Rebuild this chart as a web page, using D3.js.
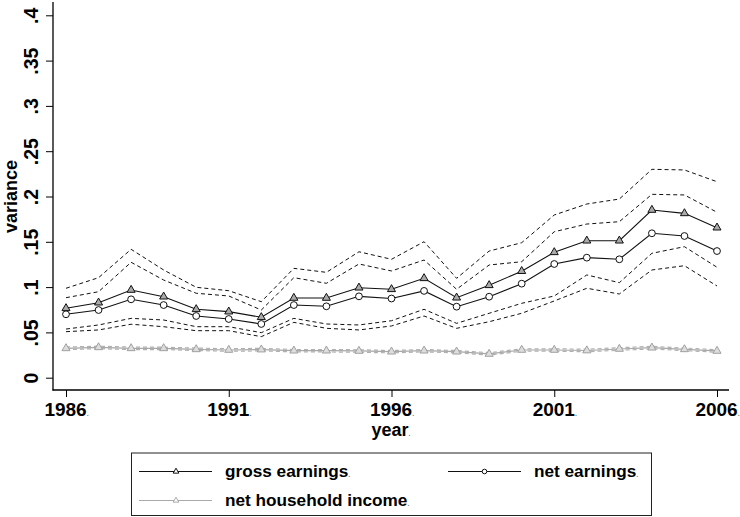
<!DOCTYPE html>
<html>
<head>
<meta charset="utf-8">
<script src="https://cdn.jsdelivr.net/npm/d3@7"></script>
<style>
  body { margin: 0; background: #fff; }
  svg { display: block; font-family: "Liberation Sans", Arial, sans-serif; font-weight: bold; }
</style>
</head>
<body>
<svg width="740" height="517"></svg>
<script>
// data
const years = [1986,1987,1988,1989,1990,1991,1992,1993,1994,1995,1996,1997,1998,1999,2000,2001,2002,2003,2004,2005,2006];
const gross = [0.0766,0.0828,0.0968,0.0894,0.0755,0.0729,0.0667,0.0880,0.0880,0.0993,0.0976,0.1097,0.0883,0.1020,0.1176,0.1384,0.1512,0.1512,0.1851,0.1814,0.1656];
const net = [0.0700,0.0747,0.0865,0.0802,0.0681,0.0648,0.0593,0.0802,0.0788,0.0898,0.0874,0.0958,0.0784,0.0894,0.1038,0.1255,0.1325,0.1307,0.1594,0.1564,0.1398];
const grossUpper = [0.0987,0.1104,0.1417,0.1189,0.0998,0.0960,0.0839,0.1207,0.1163,0.1390,0.1307,0.1501,0.1097,0.1398,0.1490,0.1796,0.1917,0.1972,0.2300,0.2293,0.2163];
const netUpper = [0.0883,0.0949,0.1274,0.1078,0.0932,0.0902,0.0747,0.1104,0.1042,0.1255,0.1178,0.1299,0.0976,0.1244,0.1280,0.1611,0.1696,0.1722,0.2024,0.2017,0.1826];
const grossLower = [0.0537,0.0582,0.0655,0.0637,0.0563,0.0563,0.0497,0.0655,0.0593,0.0582,0.0629,0.0755,0.0600,0.0711,0.0821,0.0902,0.1134,0.1049,0.1373,0.1446,0.1219];
const netLower = [0.0508,0.0527,0.0590,0.0563,0.0519,0.0519,0.0453,0.0611,0.0545,0.0527,0.0571,0.0681,0.0545,0.0618,0.0711,0.0847,0.0987,0.0924,0.1189,0.1236,0.1012];
const hhIncome = [0.0324,0.0335,0.0324,0.0324,0.0313,0.0306,0.0310,0.0298,0.0298,0.0295,0.0287,0.0298,0.0287,0.0262,0.0306,0.0306,0.0300,0.0317,0.0331,0.0313,0.0295];
const hhUpper = [0.0338,0.0348,0.0338,0.0337,0.0327,0.0320,0.0324,0.0311,0.0311,0.0308,0.0300,0.0311,0.0300,0.0276,0.0319,0.0319,0.0314,0.0331,0.0346,0.0327,0.0309];
const hhLower = [0.0310,0.0321,0.0310,0.0311,0.0300,0.0292,0.0296,0.0285,0.0284,0.0281,0.0274,0.0285,0.0274,0.0249,0.0292,0.0293,0.0287,0.0303,0.0317,0.0299,0.0281];

const xTicks = [1986,1991,1996,2001,2006];
const yTicks = [0,0.05,0.1,0.15,0.2,0.25,0.3,0.35,0.4];
const yTickLabels = ["0",".05",".1",".15",".2",".25",".3",".35",".4"];

const svg = d3.select('svg');

const x = d3.scaleLinear().domain([1986, 2006]).range([66, 717]);
const y = d3.scaleLinear().domain([0, 0.4]).range([377.7, 15.3]);

// axis lines
svg.append('line').attr('x1', 53).attr('x2', 53).attr('y1', 2).attr('y2', 390.5)
    .attr('stroke', '#000').attr('stroke-width', 1.3);
svg.append('line').attr('x1', 52.5).attr('x2', 729).attr('y1', 390).attr('y2', 390)
    .attr('stroke', '#000').attr('stroke-width', 1.3);

// y axis
const yAxis = svg.append('g')
    .attr('transform', 'translate(53,0)')
    .call(d3.axisLeft(y).tickValues(yTicks).tickSize(7).tickSizeOuter(0)
        .tickFormat((d, i) => yTickLabels[i]));
yAxis.select('.domain').remove();
yAxis.selectAll('line').attr('stroke', '#000').attr('stroke-width', 1);
yAxis.selectAll('text')
    .attr('x', 0).attr('dy', 0)
    .attr('transform', 'translate(-15.5,0) rotate(-90)')
    .attr('text-anchor', 'middle')
    .attr('font-size', 19.5)
    .attr('font-family', '"Liberation Sans", Arial, sans-serif')
    .attr('font-weight', 'bold')
    .attr('fill', '#000');

// x axis
const xAxis = svg.append('g')
    .attr('transform', 'translate(0,390)')
    .call(d3.axisBottom(x).tickValues(xTicks).tickSize(7).tickSizeOuter(0)
        .tickFormat(d3.format('d')));
xAxis.select('.domain').remove();
xAxis.selectAll('line').attr('stroke', '#000').attr('stroke-width', 1);
xAxis.selectAll('text')
    .attr('y', 25.5).attr('dy', 0)
    .attr('text-anchor', 'middle')
    .attr('font-size', 19)
    .attr('font-family', '"Liberation Sans", Arial, sans-serif')
    .attr('font-weight', 'bold')
    .attr('fill', '#000')
    .append('tspan').attr('font-size', 7).attr('fill', '#777').text('.');

// axis titles
svg.append('text')
    .attr('transform', 'translate(16.5,196.5) rotate(-90)')
    .attr('text-anchor', 'middle')
    .attr('font-size', 18)
    .text('variance');

const xt = svg.append('text')
    .attr('x', 391).attr('y', 436)
    .attr('text-anchor', 'middle')
    .attr('font-size', 18)
    .text('year');
xt.append('tspan').attr('font-size', 7).attr('fill', '#777').text('.');

// lines
const line = d3.line().x((d, i) => x(years[i])).y(d => y(d));

const dashed = [grossUpper, netUpper, grossLower, netLower];
svg.selectAll('path.ci')
    .data(dashed)
    .enter()
    .append('path')
    .attr('class', 'ci')
    .attr('d', line)
    .attr('fill', 'none')
    .attr('stroke', '#111')
    .attr('stroke-width', 1)
    .attr('stroke-dasharray', '4,3');

svg.selectAll('path.hhci')
    .data([hhUpper, hhLower])
    .enter()
    .append('path')
    .attr('class', 'hhci')
    .attr('d', line)
    .attr('fill', 'none')
    .attr('stroke', '#b0b0b0')
    .attr('stroke-width', 1.2)
    .attr('stroke-dasharray', '4,3');

svg.append('path').datum(hhIncome).attr('d', line)
    .attr('fill', 'none').attr('stroke', '#a8a8a8').attr('stroke-width', 1.2);
svg.append('path').datum(gross).attr('d', line)
    .attr('fill', 'none').attr('stroke', '#111').attr('stroke-width', 1.1);
svg.append('path').datum(net).attr('d', line)
    .attr('fill', 'none').attr('stroke', '#111').attr('stroke-width', 1.1);

const tri = d3.symbol().type(d3.symbolTriangle).size(28);
const triSmall = d3.symbol().type(d3.symbolTriangle).size(14);

svg.selectAll('path.gtri')
    .data(gross)
    .enter()
    .append('path')
    .attr('class', 'gtri')
    .attr('d', tri)
    .attr('transform', (d, i) => 'translate(' + [x(years[i]), y(d)] + ')')
    .attr('fill', '#aaa')
    .attr('stroke', '#111')
    .attr('stroke-width', 1);

svg.selectAll('circle.ncirc')
    .data(net)
    .enter()
    .append('circle')
    .attr('class', 'ncirc')
    .attr('cx', (d, i) => x(years[i]))
    .attr('cy', d => y(d))
    .attr('r', 3.4)
    .attr('fill', '#fff')
    .attr('stroke', '#111')
    .attr('stroke-width', 1);

svg.selectAll('path.htri')
    .data(hhIncome)
    .enter()
    .append('path')
    .attr('class', 'htri')
    .attr('d', tri)
    .attr('transform', (d, i) => 'translate(' + [x(years[i]), y(d)] + ')')
    .attr('fill', '#ddd')
    .attr('stroke', '#a0a0a0')
    .attr('stroke-width', 1);

// legend
svg.append('rect')
    .attr('x', 131.5).attr('y', 453)
    .attr('width', 520).attr('height', 62.5)
    .attr('fill', '#fff').attr('stroke', '#222').attr('stroke-width', 1);

const legendItems = [
    {label: 'gross earnings', x1: 139, x2: 212, mx: 176, tx: 225, y: 471.5, color: '#111', marker: 'tri'},
    {label: 'net earnings', x1: 448, x2: 521, mx: 484.5, tx: 534, y: 471.5, color: '#111', marker: 'circ'},
    {label: 'net household income', x1: 139, x2: 212, mx: 176, tx: 225, y: 500.5, color: '#aaa', marker: 'tri'}
];

const leg = svg.selectAll('g.leg')
    .data(legendItems)
    .enter()
    .append('g')
    .attr('class', 'leg');

leg.append('line')
    .attr('x1', d => d.x1).attr('x2', d => d.x2)
    .attr('y1', d => d.y).attr('y2', d => d.y)
    .attr('stroke', d => d.color).attr('stroke-width', 1);

leg.filter(d => d.marker === 'tri')
    .append('path')
    .attr('d', triSmall)
    .attr('transform', d => 'translate(' + [d.mx, d.y] + ')')
    .attr('fill', '#fff')
    .attr('stroke', d => d.color);

leg.filter(d => d.marker === 'circ')
    .append('circle')
    .attr('cx', d => d.mx).attr('cy', d => d.y).attr('r', 2.3)
    .attr('fill', '#fff').attr('stroke', '#111');

const lt = leg.append('text')
    .attr('x', d => d.tx)
    .attr('y', d => d.y + 5.3)
    .attr('font-size', 17.2)
    .text(d => d.label);
lt.append('tspan').attr('font-size', 7).attr('fill', '#777').text('.');
</script>
</body>
</html>
